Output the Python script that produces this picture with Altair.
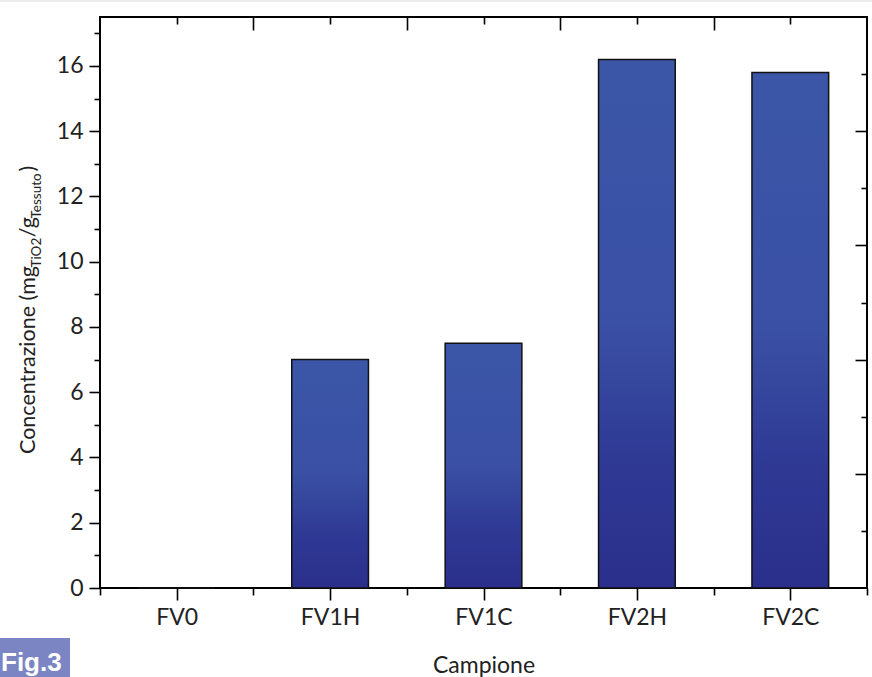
import altair as alt
import pandas as pd

# ---------------- data ----------------
categories = ["FV0", "FV1H", "FV1C", "FV2H", "FV2C"]
values = [0.0, 7.0, 7.5, 16.2, 15.8]

y_major = [0, 2, 4, 6, 8, 10, 12, 14, 16]
y_minor = [1, 3, 5, 7, 9, 11, 13, 15, 17]
y_right_long = [3.5, 7.0, 10.5, 14.0]
y_right_short = [1.75, 5.25, 8.75, 12.25, 15.75]
x_centers = [0, 1, 2, 3, 4]
x_bounds = [-0.5, 0.5, 1.5, 2.5, 3.5, 4.5]
x_bounds_inner = [0.5, 1.5, 2.5, 3.5]

x_title = "Campione"
fig_label = "Fig.3"

# ---------------- layout ----------------
W, H = 767, 571
PAD_L, PAD_T, PAD_R, PAD_B = 100, 17, 5, 89
FONT = "Lato"

df = pd.DataFrame({"cat": categories, "idx": list(range(len(categories))), "val": values})

xscale = alt.Scale(domain=[-0.5, 4.5], nice=False, zero=False)
yscale = alt.Scale(domain=[0, 17.5], nice=False, zero=False)

lab_arr = "[" + ",".join("'%s'" % c for c in categories) + "]"

gradient = alt.Gradient(
    gradient="linear",
    stops=[
        alt.GradientStop(color="#3b56a7", offset=0),
        alt.GradientStop(color="#3a50a4", offset=0.5),
        alt.GradientStop(color="#2f3a95", offset=0.75),
        alt.GradientStop(color="#2a2f8b", offset=1),
    ],
    x1=0, x2=0, y1=0, y2=1,
)

bars = alt.Chart(df).transform_calculate(
    x0="datum.idx - 0.25", x1="datum.idx + 0.25", base="0"
).mark_bar(color=gradient, stroke="#111111", strokeWidth=1.5).encode(
    x=alt.X("x0:Q", scale=xscale, axis=alt.Axis(
        orient="bottom", values=x_centers, labelExpr=lab_arr + "[datum.value]",
        tickSize=12, tickWidth=1.6, tickColor="black", labelFont=FONT, labelFontSize=23,
        labelColor="#222222", labelPadding=6, labelFlush=False, labelOverlap=False,
        title=x_title, titleFont=FONT, titleFontSize=23, titleFontWeight="normal",
        titleColor="#222222", titleY=84, titleBaseline="alphabetic", domain=False, grid=False)),
    x2="x1:Q",
    y=alt.Y("val:Q", scale=yscale, axis=alt.Axis(
        orient="left", values=y_major, tickSize=11, tickWidth=1.6, tickColor="black",
        labelFont=FONT, labelFontSize=23, labelColor="#222222", labelPadding=6,
        labelFlush=False, labelOverlap=False, title=None, domain=False, grid=False)),
    y2="base:Q",
)

def ghost(xaxis, yaxis):
    return alt.Chart(df).mark_point(opacity=0).encode(
        x=alt.X("idx:Q", scale=xscale, axis=xaxis),
        y=alt.Y("val:Q", scale=yscale, axis=yaxis),
    )

def tick_axis(orient, vals, size, offset=0):
    kw = dict(orient=orient, values=vals, tickSize=size, tickWidth=1.6, tickColor="black",
              labels=False, domain=False, grid=False, title=None)
    if offset:
        kw["offset"] = offset
    return alt.Axis(**kw)

g1 = ghost(tick_axis("bottom", x_bounds, 7), tick_axis("left", y_minor, 6))
g2 = ghost(tick_axis("top", x_centers, 7, -7), tick_axis("right", y_right_long, 12, -12))
g3 = ghost(tick_axis("top", x_bounds_inner, 13, -13), tick_axis("right", y_right_short, 6, -6))

# ---------------- y title with subscripts ----------------
LATO_W = {
    "C": 0.656, "o": 0.56, "n": 0.55, "c": 0.47, "e": 0.52, "t": 0.36, "r": 0.37,
    "a": 0.50, "z": 0.45, "i": 0.24, " ": 0.19, "(": 0.30, ")": 0.30, "m": 0.83,
    "g": 0.50, "T": 0.58, "O": 0.77, "2": 0.58, "/": 0.37, "s": 0.42, "u": 0.55,
}

def text_w(s, size):
    return sum(LATO_W.get(ch, 0.55) for ch in s) * size

pieces = [
    ("Concentrazione (mg", 21.5, 0),
    ("TiO2", 13.5, 6),
    ("/g", 21.5, 0),
    ("Tessuto", 13.5, 6),
    (")", 21.5, 0),
]
base_x = 35 - PAD_L
start_y = 454 - PAD_T
title_layers = []
yy = start_y
for txt, sz, shift in pieces:
    title_layers.append(
        alt.Chart(pd.DataFrame({"t": [txt]})).mark_text(
            angle=270, align="left", baseline="alphabetic", font=FONT, fontSize=sz,
            color="#222222").encode(
            text="t:N", x=alt.value(base_x + shift), y=alt.value(yy))
    )
    yy -= text_w(txt, sz) + (1 if sz < 20 else 0)

# ---------------- decorations ----------------
fig_box = alt.Chart(pd.DataFrame({"t": [fig_label]})).mark_rect(color="#7b85c3").encode(
    x=alt.value(-PAD_L), x2=alt.value(70 - PAD_L), y=alt.value(638 - PAD_T), y2=alt.value(677 - PAD_T + 2))
fig_txt = alt.Chart(pd.DataFrame({"t": [fig_label]})).mark_text(
    align="left", baseline="alphabetic", font="Liberation Sans",
    fontSize=26, fontWeight="bold", color="white").encode(
    text="t:N", x=alt.value(1 - PAD_L), y=alt.value(671 - PAD_T))
top_strip = alt.Chart(pd.DataFrame({"t": [""]})).mark_rect(color="#ececee").encode(
    x=alt.value(-PAD_L), x2=alt.value(W + PAD_R), y=alt.value(-PAD_T), y2=alt.value(-PAD_T + 2))

chart = alt.layer(bars, g1, g2, g3, *title_layers, fig_box, fig_txt, top_strip).resolve_scale(
    x="shared", y="shared").resolve_axis(x="independent", y="independent").properties(
    width=W, height=H,
    padding={"left": PAD_L, "top": PAD_T, "right": PAD_R, "bottom": PAD_B},
    autosize=alt.AutoSizeParams(type="none"),
    background="white",
).configure_view(stroke="black", strokeWidth=2).configure_axis(grid=False)

chart.save("out.html", embed_options={"renderer": "svg", "actions": False})
